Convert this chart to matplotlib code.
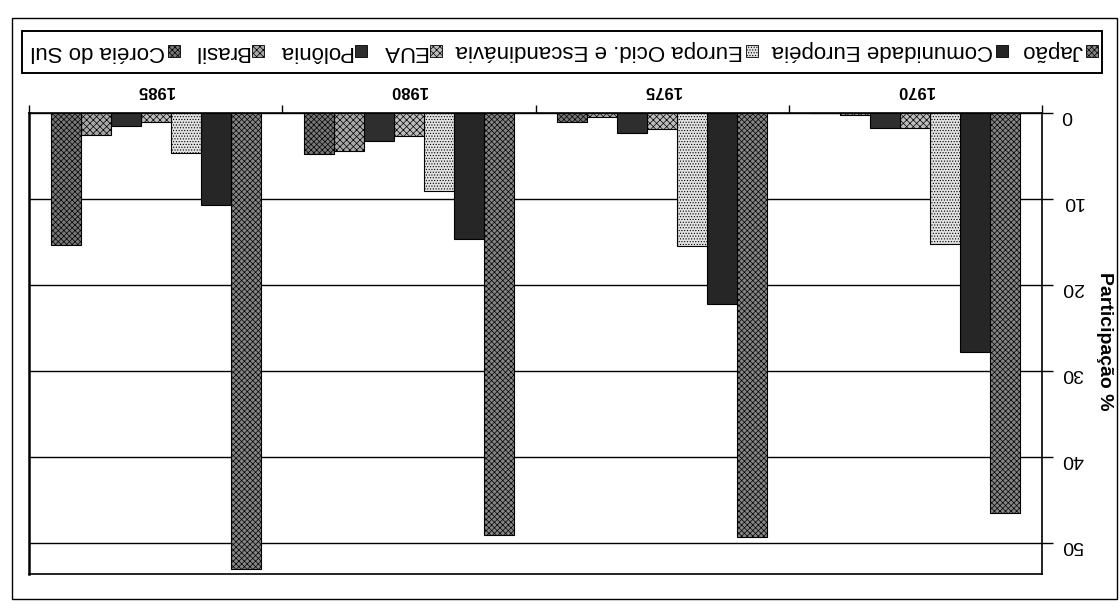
import matplotlib
matplotlib.use('Agg')
import matplotlib.pyplot as plt
from matplotlib.patches import Rectangle
import numpy as np

plt.rcParams['font.family'] = ['Liberation Sans', 'DejaVu Sans']
plt.rcParams['hatch.linewidth'] = 0.5

# participação % por país/região
anos = ['1970', '1975', '1980', '1985']
paises = ['Japão', 'Comunidade Européia', 'Europa Ocid. e Escandinávia',
          'EUA', 'Polônia', 'Brasil', 'Coréia do Sul']
japao = [46.5, 49.3, 49.1, 53.0]
com_europeia = [27.8, 22.2, 14.7, 10.7]
europa_ocid = [15.2, 15.5, 9.1, 4.7]
eua = [1.7, 1.9, 2.7, 1.0]
polonia = [1.7, 2.3, 3.2, 1.5]
brasil = [0.2, 0.5, 4.4, 2.5]
coreia = [0.0, 1.1, 4.8, 15.4]
valores = [japao, com_europeia, europa_ocid, eua, polonia, brasil, coreia]

# tons de cinza com pontilhado fino, um por série
estilos = [
    dict(facecolor='#858585', hatch='xxxxxx'),
    dict(facecolor='#262626', hatch=None),
    dict(facecolor='#e2e2e2', hatch='......'),
    dict(facecolor='#bdbdbd', hatch='xxxxx'),
    dict(facecolor='#2e2e2e', hatch=None),
    dict(facecolor='#a8a8a8', hatch='xxxxx'),
    dict(facecolor='#777777', hatch='xxxxxx'),
]

W, H = 1120, 608


def fx(px):
    return px / W


def fy(py):
    return 1 - py / H


fig = plt.figure(figsize=(W / 100, H / 100), dpi=100)

# moldura externa
fig.add_artist(Rectangle((fx(12), fy(599)), fx(1117) - fx(12), fy(18) - fy(599),
                         transform=fig.transFigure, fill=False,
                         edgecolor='black', lw=1.0))

ax = fig.add_axes([fx(29), fy(574), fx(1042) - fx(29), fy(113) - fy(574)])

# gráfico impresso de cabeça para baixo: eixos invertidos, textos girados 180°
x = np.arange(len(anos))
larg = 0.1185
n = len(paises)
for i, (serie, est) in enumerate(zip(valores, estilos)):
    ax.bar(x + (i - (n - 1) / 2) * larg, serie, width=larg,
           edgecolor='black', linewidth=0.8, zorder=3, **est)

ax.set_xlim(len(anos) - 0.5, -0.5)
ax.set_ylim(53.6, 0)

ax.yaxis.tick_right()
ax.set_yticks(range(0, 51, 10))
ax.tick_params(axis='y', direction='out', length=8, width=1, pad=6,
               labelsize=14)
for lb in ax.get_yticklabels():
    lb.set_rotation(180)
ax.grid(axis='y', color='black', linewidth=1.0, zorder=1)

ax.xaxis.tick_top()
ax.set_xticks(x)
ax.set_xticklabels(anos, rotation=180, fontweight='bold', fontsize=12)
ax.set_xticks(np.arange(-0.5, len(anos), 1.0), minor=True)
ax.tick_params(axis='x', which='major', length=0, pad=11)
ax.tick_params(axis='x', which='minor', direction='out', length=6, width=1)

for lado in ['top', 'right', 'bottom']:
    ax.spines[lado].set_linewidth(1.2)
ax.spines['left'].set_linewidth(1.8)

fig.text(fx(1104), fy(341), 'Participação %', rotation=270, ha='center',
         va='center', fontsize=14, fontweight='bold')

# legenda em caixa, da direita para a esquerda
fig.add_artist(Rectangle((fx(22), fy(73)), fx(1102) - fx(22), fy(31) - fy(73),
                         transform=fig.transFigure, fill=False,
                         edgecolor='black', lw=1.4))
renderer = fig.canvas.get_renderer()
yl = 51
tam_marc = 12
textos = []
for nome in paises:
    t = fig.text(0, fy(yl), nome, rotation=180, ha='right', va='center',
                 fontsize=16)
    textos.append(t)
larguras = [t.get_window_extent(renderer).width for t in textos]
x0, x1 = 1098, 30
sobra = (x0 - x1) - sum(larguras) - n * (tam_marc + 3)
gap = sobra / (n - 1)
xp = x0
for t, w, est in zip(textos, larguras, estilos):
    fig.add_artist(Rectangle((fx(xp - tam_marc), fy(yl + tam_marc / 2)),
                             fx(tam_marc), fy(yl - tam_marc / 2) - fy(yl + tam_marc / 2),
                             transform=fig.transFigure, edgecolor='black',
                             lw=0.6, **est))
    xp -= tam_marc + 3
    t.set_x(fx(xp))
    xp -= w + gap

fig.savefig('out.png', dpi=100)
